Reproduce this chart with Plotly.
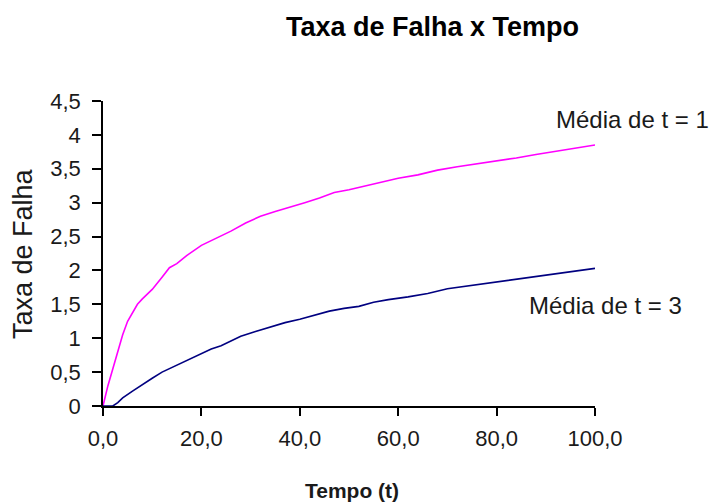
import plotly.graph_objects as go

# Failure-rate curves over time for two mean values of t
t_media1 = [0, 1, 2, 3, 4, 5, 6, 7, 8, 10, 12, 13.5, 15, 17, 20, 23, 26, 29, 32, 35,
            38, 41, 44, 47, 50, 53, 56, 60, 64, 68, 72, 76, 80, 84, 88, 92, 96, 100]
taxa_media1 = [0, 0.3, 0.55, 0.8, 1.05, 1.25, 1.38, 1.5, 1.58, 1.72, 1.9, 2.04, 2.1, 2.22,
               2.37, 2.47, 2.58, 2.7, 2.8, 2.87, 2.93, 3.0, 3.07, 3.15, 3.19, 3.24, 3.29,
               3.36, 3.41, 3.48, 3.53, 3.57, 3.62, 3.66, 3.71, 3.76, 3.8, 3.85]

t_media3 = [0, 2, 3, 4, 6, 8, 10, 12, 14, 16, 18, 20, 22, 24, 26, 28, 31, 34, 37, 40,
            43, 46, 49, 52, 55, 58, 62, 66, 70, 74, 78, 82, 86, 90, 94, 97, 100]
taxa_media3 = [0, 0.0, 0.05, 0.12, 0.22, 0.32, 0.41, 0.5, 0.57, 0.63, 0.7, 0.77, 0.84,
               0.89, 0.96, 1.03, 1.1, 1.17, 1.23, 1.28, 1.34, 1.4, 1.44, 1.47, 1.53, 1.57,
               1.61, 1.66, 1.73, 1.77, 1.8, 1.84, 1.88, 1.92, 1.96, 2.0, 2.03]

y_ticks = [0, 0.5, 1, 1.5, 2, 2.5, 3, 3.5, 4, 4.5]
y_labels = ["0", "0,5", "1", "1,5", "2", "2,5", "3", "3,5", "4", "4,5"]
x_ticks = [0, 20, 40, 60, 80, 100]
x_labels = ["0,0", "20,0", "40,0", "60,0", "80,0", "100,0"]

FONT = "Liberation Sans, Arial, sans-serif"
TXT = "#1a1a1a"

# plot area in pixels
L, R, T, B = 103, 595, 101, 406
W, H = 709, 504
pw, ph = R - L, B - T


def px_to_paper(x, y):
    return (x - L) / pw, (B - y) / ph


fig = go.Figure()
fig.add_trace(go.Scatter(x=t_media1, y=taxa_media1, mode="lines",
                         line=dict(color="#FF00FF", width=1.6), name="Média de t = 1"))
fig.add_trace(go.Scatter(x=t_media3, y=taxa_media3, mode="lines",
                         line=dict(color="#000080", width=1.6), name="Média de t = 3"))

fig.update_layout(
    width=W, height=H,
    margin=dict(l=L, r=W - R, t=T, b=H - B),
    paper_bgcolor="white", plot_bgcolor="white",
    showlegend=False,
    font=dict(family=FONT, color=TXT),
)

fig.update_xaxes(
    range=[0, 100], tickvals=x_ticks, ticktext=x_labels,
    showgrid=False, zeroline=False,
    showline=True, linecolor="black", linewidth=1.5,
    ticks="outside", ticklen=8, tickwidth=1.5, tickcolor="black",
    ticklabelstandoff=4,
    tickfont=dict(size=22, family=FONT, color=TXT),
)
fig.update_yaxes(
    range=[0, 4.5], tickvals=y_ticks, ticktext=y_labels,
    showgrid=False, zeroline=False,
    showline=True, linecolor="black", linewidth=1.5,
    ticks="outside", ticklen=9, tickwidth=1.5, tickcolor="black",
    ticklabelstandoff=7,
    tickfont=dict(size=22, family=FONT, color=TXT),
)

# chart title
tx, ty = px_to_paper(432, 27)
fig.add_annotation(text="<b>Taxa de Falha x Tempo</b>", xref="paper", yref="paper",
                   x=tx, y=ty, xanchor="center", yanchor="middle",
                   showarrow=False, font=dict(size=27, family=FONT, color="black"))
# axis titles
ax, ay = px_to_paper(352, 490)
fig.add_annotation(text="<b>Tempo (t)</b>", xref="paper", yref="paper",
                   x=ax, y=ay, xanchor="center", yanchor="middle",
                   showarrow=False, font=dict(size=21, family=FONT, color=TXT))
yx, yy = px_to_paper(23, 254)
fig.add_annotation(text="Taxa de Falha", xref="paper", yref="paper", textangle=-90,
                   x=yx, y=yy, xanchor="center", yanchor="middle",
                   showarrow=False, font=dict(size=27, family=FONT, color=TXT))

# series labels
fig.add_annotation(text="Média de t = 1", xref="x", yref="y", x=91.7, y=4.22,
                   xanchor="left", yanchor="middle", showarrow=False,
                   font=dict(size=24, family=FONT, color=TXT))
fig.add_annotation(text="Média de t = 3", xref="x", yref="y", x=86.2, y=1.49,
                   xanchor="left", yanchor="middle", showarrow=False,
                   font=dict(size=24, family=FONT, color=TXT))

fig.write_html("out.html")
